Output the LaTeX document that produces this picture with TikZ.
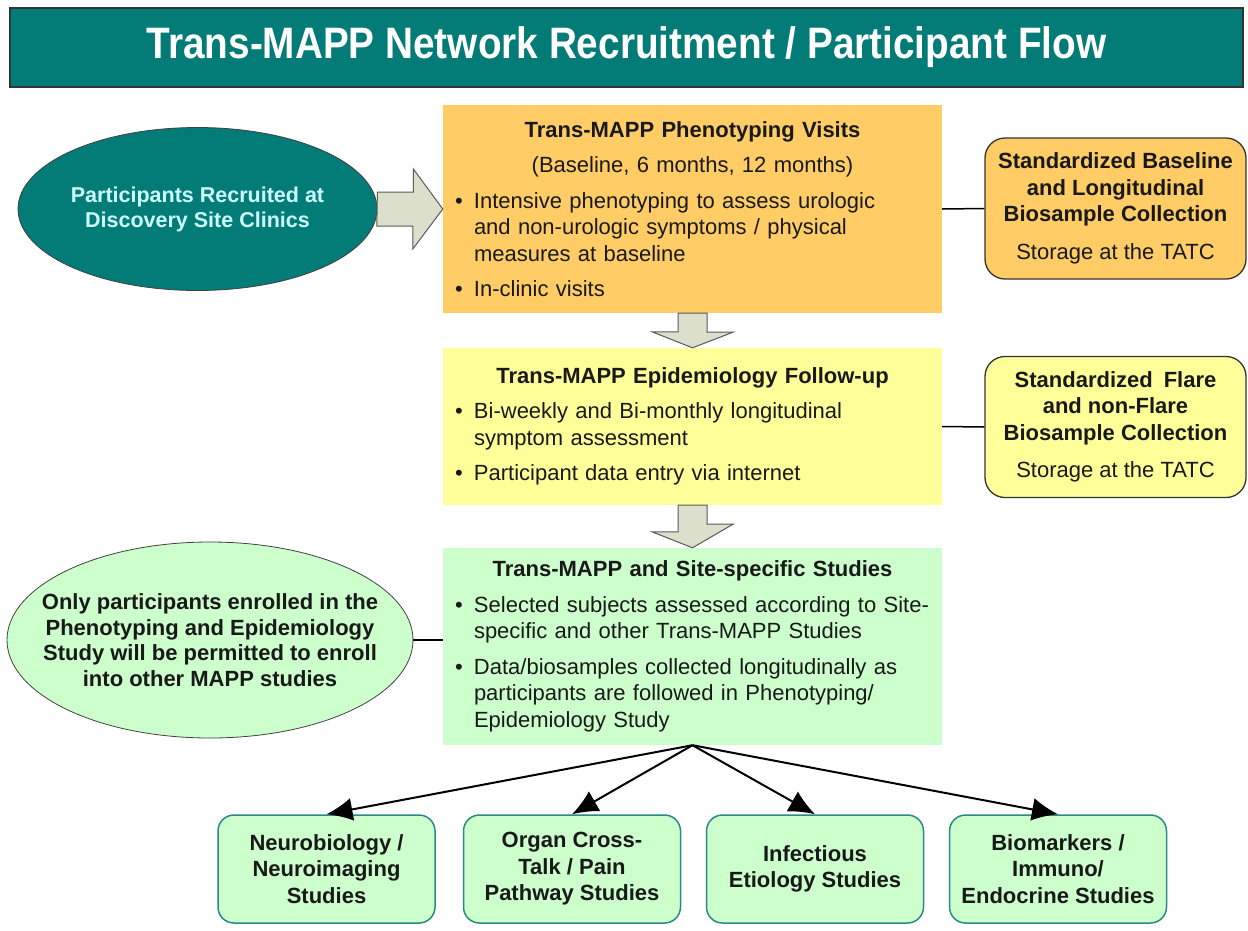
\documentclass[tikz,border=0pt]{standalone}
\usepackage{fontspec}
\setmainfont{Liberation Sans}
\usepackage{graphicx}
\usepackage{tikz}
\usetikzlibrary{shapes.geometric, arrows.meta, calc}

\definecolor{mappteal}{HTML}{037B77}
\definecolor{mapporange}{HTML}{FFCC66}
\definecolor{mappyellow}{HTML}{FFFF99}
\definecolor{mappgreen}{HTML}{CCFFCC}
\definecolor{mappcyan}{HTML}{CCFFFF}
\definecolor{arrowgrey}{HTML}{DCDFCB}
\definecolor{studyedge}{HTML}{2A8A86}

\newcommand{\boxfont}{\fontsize{22}{26.5}\selectfont}
\newcommand{\boxtitle}[1]{\centerline{\bfseries #1}}
\newcommand{\bitem}[1]{\par\vspace{9pt}\hangindent=25pt\hangafter=1\noindent\makebox[25pt][l]{\hspace{6pt}\textbullet}#1\par}
\newcommand{\nl}{\hfil\break}

\tikzset{
	stage/.style      = {shape=rectangle, align=left, font=\boxfont,
		text width=487pt, minimum width=499pt, inner xsep=6pt, text=black!90},
	sample/.style     = {shape=rectangle, rounded corners=20pt, draw=black!80,
		line width=1.3pt, align=center, font=\boxfont,
		minimum width=261pt, minimum height=141pt, text=black!90},
	study/.style      = {shape=rectangle, rounded corners=16pt, draw=studyedge,
		line width=1.5pt, fill=mappgreen, align=center, font=\boxfont\bfseries,
		minimum width=217pt, minimum height=108pt, text=black!90},
	bubble/.style     = {shape=ellipse, draw=black!75, line width=0.8pt, inner sep=0pt},
	bubbletext/.style = {align=center, inner sep=0pt},
	blockarrow/.style = {draw=black!65, line width=1pt, fill=arrowgrey},
	link/.style       = {draw=black, line width=1.5pt},
	flow/.style       = {draw=black, line width=2pt, -{Latex[length=26pt,width=23pt]}}
}

\begin{document}
\begin{tikzpicture}[x=1pt, y=-1pt]
	\useasboundingbox (0,0) rectangle (1248,930);

	% banner
	\node [fill=mappteal, draw=black!80, line width=1.2pt, minimum width=1233pt,
		minimum height=79pt, text=white, font=\fontsize{44}{50}\selectfont\bfseries]
		(banner) at (626.5,47.5)
		{\scalebox{0.88}[1]{Trans-MAPP Network Recruitment / Participant Flow}};

	% main column
	\node [stage, fill=mapporange, minimum height=208pt] (phen) at (692.5,209) {
		\boxtitle{Trans-MAPP Phenotyping Visits}
		\par\vspace{9pt}\centerline{(Baseline, 6 months, 12 months)}
		\bitem{Intensive phenotyping to assess urologic\nl and non-urologic symptoms / physical\nl measures at baseline}
		\bitem{In-clinic visits}};
	\node [stage, fill=mappyellow, minimum height=157pt] (epi) at (692.5,426.5) {
		\boxtitle{Trans-MAPP Epidemiology Follow-up}
		\bitem{Bi-weekly and Bi-monthly longitudinal\nl symptom assessment}
		\bitem{Participant data entry via internet}};
	\node [stage, fill=mappgreen, minimum height=197pt] (studies) at (692.5,646.5) {
		\boxtitle{Trans-MAPP and Site-specific Studies}
		\bitem{Selected subjects assessed according to Site-\nl specific and other Trans-MAPP Studies}
		\bitem{Data/biosamples collected longitudinally as\nl participants are followed in Phenotyping/\nl Epidemiology Study}};

	% side nodes
	\node [bubble, fill=mappteal, minimum width=359pt, minimum height=163pt] (recruit) at (197.5,209) {};
	\node [bubbletext, text=mappcyan, font=\fontsize{21.5}{25}\selectfont\bfseries] (recruittext) at (recruit)
		{Participants Recruited at\\Discovery Site Clinics};
	\node [bubble, fill=mappgreen, minimum width=406pt, minimum height=196pt] (only) at (210,640) {};
	\node [bubbletext, text=black!90, font=\fontsize{22}{25.5}\selectfont\bfseries] (onlytext) at (only)
		{Only participants enrolled in the\\Phenotyping and Epidemiology\\Study will be permitted to enroll\\into other MAPP studies};
	\node [sample, fill=mapporange] (bank1) at (1115.5,208.5)
		{\textbf{Standardized Baseline}\\\textbf{and Longitudinal}\\\textbf{Biosample Collection}\\[11pt]Storage at the TATC};
	\node [sample, fill=mappyellow] (bank2) at (1115.5,427)
		{\textbf{Standardized\enspace Flare}\\\textbf{and non-Flare}\\\textbf{Biosample Collection}\\[11pt]Storage at the TATC};

	% studies
	\node [study] (neuro)   at (326.5,869) {Neurobiology /\\Neuroimaging\\Studies};
	\node [study] (organ)   at (572,869)   {Organ Cross-\\Talk / Pain\\Pathway Studies};
	\node [study] (infect)  at (815,869)   {Infectious\\Etiology Studies};
	\node [study] (markers) at (1058,869)  {Biomarkers /\\Immuno/\\Endocrine Studies};

	% block arrows
	\draw [blockarrow] ($(recruit.east)+(0,-17)$) -- ++(36,0) -- ++(0,-23) -- (phen.west)
		-- ++(-30,40) -- ++(0,-23) -- ++(-36,0) -- cycle;
	\draw [blockarrow] ($(phen.south)+(-14.5,0)$) -- ++(29,0) -- ++(0,19) -- ++(26,0)
		-- (epi.north) -- ++(-40.5,-16) -- ++(26,0) -- cycle;
	\draw [blockarrow] ($(epi.south)+(-14.5,0)$) -- ++(29,0) -- ++(0,19) -- ++(26,0)
		-- (studies.north) -- ++(-40.5,-16) -- ++(26,0) -- cycle;

	% links
	\draw [link] (phen.east) -- (bank1.west);
	\draw [link] (epi.east) -- (bank2.west);
	\draw [link] (only.east) -- (only.east -| studies.west);

	% arrows to studies
	\draw [flow] (studies.south) -- (neuro.north);
	\draw [flow] (studies.south) -- (organ.north);
	\draw [flow] (studies.south) -- (infect.north);
	\draw [flow] (studies.south) -- (markers.north);
\end{tikzpicture}
\end{document}
